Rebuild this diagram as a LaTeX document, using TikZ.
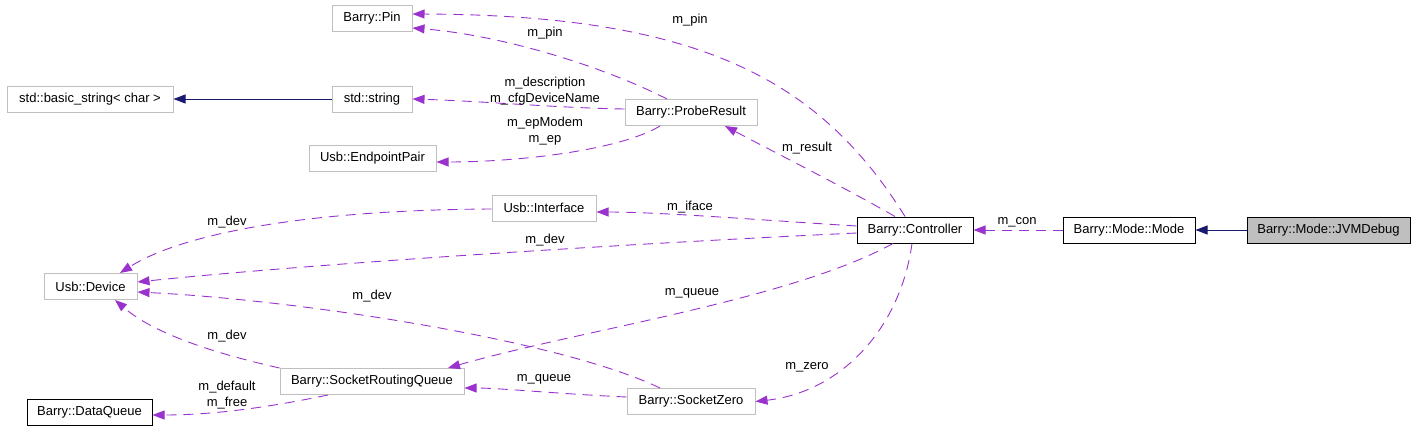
\documentclass[tikz,border=0pt]{standalone}
\usepackage{fontspec}
\setmainfont{Liberation Sans}
\usetikzlibrary{arrows.meta}
\definecolor{dep}{HTML}{9A32CD}
\definecolor{inh}{HTML}{191970}
\definecolor{lgray}{HTML}{BFBFBF}
\tikzset{
  cls/.style={draw=lgray, line width=1pt, minimum height=26pt, inner sep=0pt, font=\fontsize{13}{16}\selectfont, text=black},
  clsb/.style={cls, draw=black},
  deprel/.style={draw=dep, line width=0.9pt, dash pattern=on 10pt off 7pt, -{Triangle[length=12pt,width=9pt]}},
  inhrel/.style={draw=inh, line width=0.9pt, -{Triangle[length=12pt,width=9pt]}},
  lbl/.style={inner sep=0pt, font=\fontsize{13}{16}\selectfont, align=center}
}
\begin{document}
\begin{tikzpicture}[x=1pt,y=-1pt]
\useasboundingbox (0,0) rectangle (1416,431);
% nodes
\node[cls, minimum width=80pt] (pin) at (372,18.5) {Barry::Pin};
\node[cls, minimum width=166pt] (bstr) at (90,99) {std::basic\_string< char >};
\node[cls, minimum width=80pt] (str) at (372,99) {std::string};
\node[cls, minimum width=127pt] (ep) at (372.5,158.5) {Usb::EndpointPair};
\node[cls, minimum width=132pt] (probe) at (691,112.5) {Barry::ProbeResult};
\node[cls, minimum width=104pt] (iface) at (544,208) {Usb::Interface};
\node[clsb, minimum width=116pt] (ctrl) at (915,230) {Barry::Controller};
\node[clsb, minimum width=132pt] (mode) at (1129,230) {Barry::Mode::Mode};
\node[clsb, fill=lgray, minimum width=163pt] (jvm) at (1328.5,230) {Barry::Mode::JVMDebug};
\node[cls, minimum width=93pt] (dev) at (90.5,286.5) {Usb::Device};
\node[cls, minimum width=184pt] (srq) at (372,381.5) {Barry::SocketRoutingQueue};
\node[clsb, minimum width=125pt] (dq) at (89.5,412.5) {Barry::DataQueue};
\node[cls, minimum width=128pt] (zero) at (691,401.5) {Barry::SocketZero};
% inheritance
\draw[inhrel] (jvm.west) -- (mode.east);
\draw[inhrel] (str.west) -- (bstr.east);
% dependencies
\draw[deprel] (mode.west) -- (ctrl.east);
\draw[deprel] ([xshift=-10pt]ctrl.north) .. controls (820,80) and (700,15) .. ([yshift=4.5pt]pin.east);
\draw[deprel] ([xshift=-24pt]probe.north) .. controls (600,65) and (500,35) .. ([yshift=-9.5pt]pin.east);
\draw[deprel] ([yshift=3.5pt]probe.west) .. controls (560,108) and (480,101) .. (str.east);
\draw[deprel] ([xshift=-31pt]probe.south) .. controls (620,150) and (520,162) .. ([yshift=-3.5pt]ep.east);
\draw[deprel] ([xshift=-20pt]ctrl.north) .. controls (840,185) and (770,150) .. ([xshift=34pt]probe.south);
\draw[deprel] ([yshift=4pt]ctrl.west) .. controls (760,220) and (660,212) .. ([yshift=-4pt]iface.east);
\draw[deprel] ([yshift=-1pt]iface.west) .. controls (300,210) and (180,235) .. ([xshift=29.5pt]dev.north);
\draw[deprel] ([yshift=-3pt]ctrl.west) .. controls (600,245) and (300,265) .. ([yshift=4.5pt]dev.east);
\draw[deprel] ([xshift=-22pt]ctrl.south) .. controls (790,300) and (580,330) .. ([xshift=76pt]srq.north);
\draw[deprel] ([xshift=-3pt]ctrl.south) .. controls (900,330) and (840,392) .. (zero.east);
\draw[deprel] ([xshift=-31pt]zero.north) .. controls (560,340) and (300,300) .. ([yshift=-5.5pt]dev.east);
\draw[deprel] (srq.north west) .. controls (200,350) and (150,330) .. ([xshift=24.5pt]dev.south);
\draw[deprel] ([yshift=4.5pt]zero.west) .. controls (560,394) and (500,388) .. ([yshift=-6.5pt]srq.east);
\draw[deprel] ([xshift=-44pt]srq.south) .. controls (280,405) and (220,415) .. ([yshift=-2.5pt]dq.east);
% labels
\node[lbl] (l1) at (690,20) {m\_pin};
\node[lbl] (l2) at (545,33) {m\_pin};
\node[lbl] (l3) at (545,91) {m\_description\\m\_cfgDeviceName};
\node[lbl] (l4) at (545,131) {m\_epModem\\m\_ep};
\node[lbl] (l5) at (807,148) {m\_result};
\node[lbl] (l6) at (690,207) {m\_iface};
\node[lbl] (l7) at (227,222) {m\_dev};
\node[lbl] (l8) at (545,240) {m\_dev};
\node[lbl] (l9) at (372,296) {m\_dev};
\node[lbl] (l10) at (227,336) {m\_dev};
\node[lbl] (l11) at (692,293) {m\_queue};
\node[lbl] (l12) at (544,379) {m\_queue};
\node[lbl] (l13) at (807,367) {m\_zero};
\node[lbl] (l14) at (227,395) {m\_default\\m\_free};
\node[lbl] (l15) at (1017,222) {m\_con};
\end{tikzpicture}
\end{document}
